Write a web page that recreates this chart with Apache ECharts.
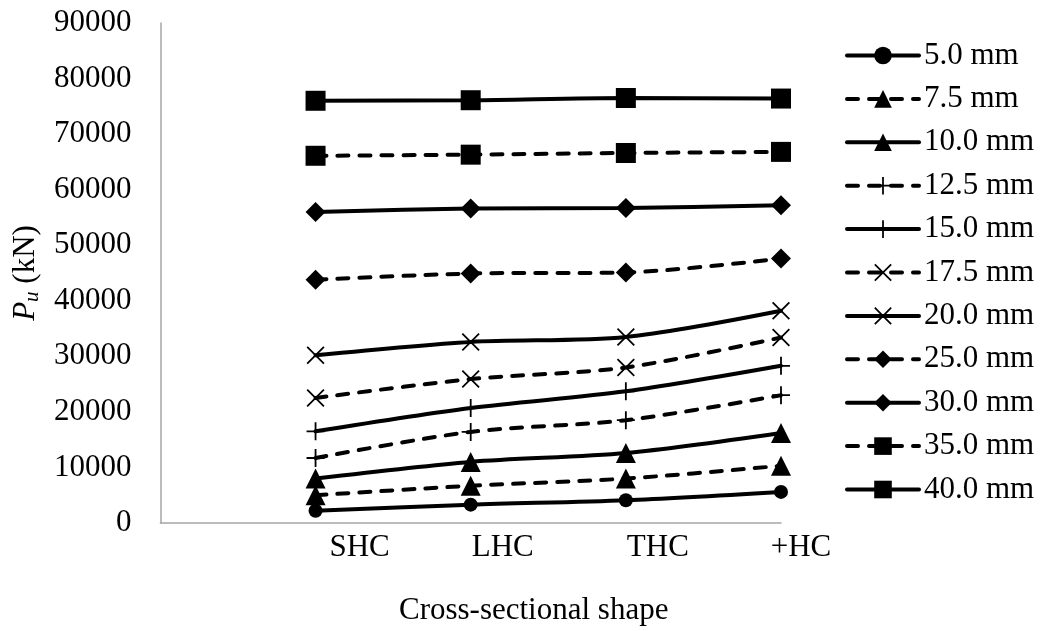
<!DOCTYPE html>
<html>
<head>
<meta charset="utf-8">
<script src="https://cdn.jsdelivr.net/npm/echarts@6/dist/echarts.min.js"></script>
<style>
  html, body { margin: 0; padding: 0; background: #fff; }
  #chart { width: 1043px; height: 631px; }
</style>
</head>
<body>
<div id="chart"></div>
<script>
// Cross-sectional shapes (an empty slot leads the axis)
const shapes = ['SHC', 'LHC', 'THC', '+HC'];
const categories = [''].concat(shapes);

// Ultimate load Pu (kN) per shape, one array per thickness
const t5_0  = [2200, 3300, 4100, 5600];
const t7_5  = [5000, 6700, 8000, 10300];
const t10_0 = [8000, 11000, 12600, 16200];
const t12_5 = [11700, 16400, 18500, 23000];
const t15_0 = [16500, 20700, 23700, 28300];
const t17_5 = [22500, 25900, 28000, 33400];
const t20_0 = [30200, 32600, 33500, 38200];
const t25_0 = [43800, 44900, 45100, 47600];
const t30_0 = [56000, 56600, 56700, 57200];
const t35_0 = [66100, 66300, 66600, 66800];
const t40_0 = [76000, 76100, 76500, 76400];

const yTicks = { min: 0, max: 90000, step: 10000 };

const PLUS = 'path://M9,0 H11 V9 H20 V11 H11 V20 H9 V11 H0 V9 H9 Z';
const CROSS = 'path://M0,1.4 L1.4,0 L10,8.6 L18.6,0 L20,1.4 L11.4,10 L20,18.6 L18.6,20 L10,11.4 L1.4,20 L0,18.6 L8.6,10 Z';

const seriesDefs = [
  { name: '5.0 mm',  data: t5_0,  dashed: false, symbol: 'circle',   size: 14 },
  { name: '7.5 mm',  data: t7_5,  dashed: true,  symbol: 'triangle', size: 20 },
  { name: '10.0 mm', data: t10_0, dashed: false, symbol: 'triangle', size: 20 },
  { name: '12.5 mm', data: t12_5, dashed: true,  symbol: PLUS,       size: 18 },
  { name: '15.0 mm', data: t15_0, dashed: false, symbol: PLUS,       size: 18 },
  { name: '17.5 mm', data: t17_5, dashed: true,  symbol: CROSS,      size: 18 },
  { name: '20.0 mm', data: t20_0, dashed: false, symbol: CROSS,      size: 18 },
  { name: '25.0 mm', data: t25_0, dashed: true,  symbol: 'diamond',  size: 20 },
  { name: '30.0 mm', data: t30_0, dashed: false, symbol: 'diamond',  size: 20 },
  { name: '35.0 mm', data: t35_0, dashed: true,  symbol: 'rect',     size: 20 },
  { name: '40.0 mm', data: t40_0, dashed: false, symbol: 'rect',     size: 20 }
];

const FONT = '"Liberation Serif", "Times New Roman", serif';
const FS = 31;

// category labels sit a little to the right of their points
const labelShift = [0, 88, 64, 64, 40];
const labelRich = {};
labelShift.forEach((p, i) => {
  labelRich['c' + i] = { fontFamily: FONT, fontSize: FS, color: '#000', padding: [0, 0, 0, p] };
});

const chart = echarts.init(document.getElementById('chart'), null, { renderer: 'canvas' });

chart.setOption({
  animation: false,
  backgroundColor: '#ffffff',
  textStyle: { fontFamily: FONT, color: '#000' },
  grid: { left: 157, right: 262, top: 23, bottom: 103, containLabel: false },
  legend: {
    orient: 'vertical',
    left: 840,
    top: 35,
    itemWidth: 72,
    itemHeight: 22,
    itemGap: 12.4,
    lineStyle: { width: 4, cap: 'round' },
    textStyle: { fontFamily: FONT, fontSize: FS, color: '#000', lineHeight: 30 },
    data: seriesDefs.map(s => s.name)
  },
  xAxis: {
    type: 'category',
    data: categories,
    boundaryGap: false,
    axisTick: { show: false },
    axisLine: { lineStyle: { color: '#a6a6a6', width: 1.5 } },
    axisLabel: {
      interval: 0,
      margin: 9,
      fontFamily: FONT,
      fontSize: FS,
      color: '#000',
      formatter: (v, i) => v ? '{c' + i + '|' + v + '}' : '',
      rich: labelRich
    },
    name: 'Cross-sectional shape',
    nameLocation: 'middle',
    nameGap: 72,
    nameTextStyle: { fontFamily: FONT, fontSize: FS, color: '#000', padding: [0, 0, 0, 126] }
  },
  yAxis: {
    type: 'value',
    min: yTicks.min,
    max: yTicks.max,
    interval: yTicks.step,
    splitLine: { show: false },
    axisTick: { show: false },
    axisLine: { show: true, lineStyle: { color: '#a6a6a6', width: 1.5 } },
    axisLabel: {
      margin: 29,
      fontFamily: FONT,
      fontSize: FS,
      color: '#000',
      formatter: v => String(v)
    },
    name: '{p|P}{u|u}{n| (kN)}',
    nameLocation: 'middle',
    nameRotate: 90,
    nameGap: 110,
    nameTextStyle: {
      rich: {
        p: { fontFamily: FONT, fontSize: FS, fontStyle: 'italic', color: '#000', lineHeight: 36, verticalAlign: 'middle' },
        u: { fontFamily: FONT, fontSize: 21, fontStyle: 'italic', color: '#000', lineHeight: 21, padding: [14, 0, 0, 0], verticalAlign: 'middle' },
        n: { fontFamily: FONT, fontSize: FS, color: '#000', lineHeight: 36, verticalAlign: 'middle' }
      }
    }
  },
  series: seriesDefs.map(s => ({
    name: s.name,
    type: 'line',
    data: [null].concat(s.data),
    smooth: 0.3,
    symbol: s.symbol,
    symbolSize: s.size,
    showAllSymbol: true,
    itemStyle: { color: '#000' },
    lineStyle: {
      color: '#000',
      width: 4,
      type: s.dashed ? [11, 11] : 'solid',
      cap: 'round'
    },
    emphasis: { disabled: true }
  }))
});
</script>
</body>
</html>
